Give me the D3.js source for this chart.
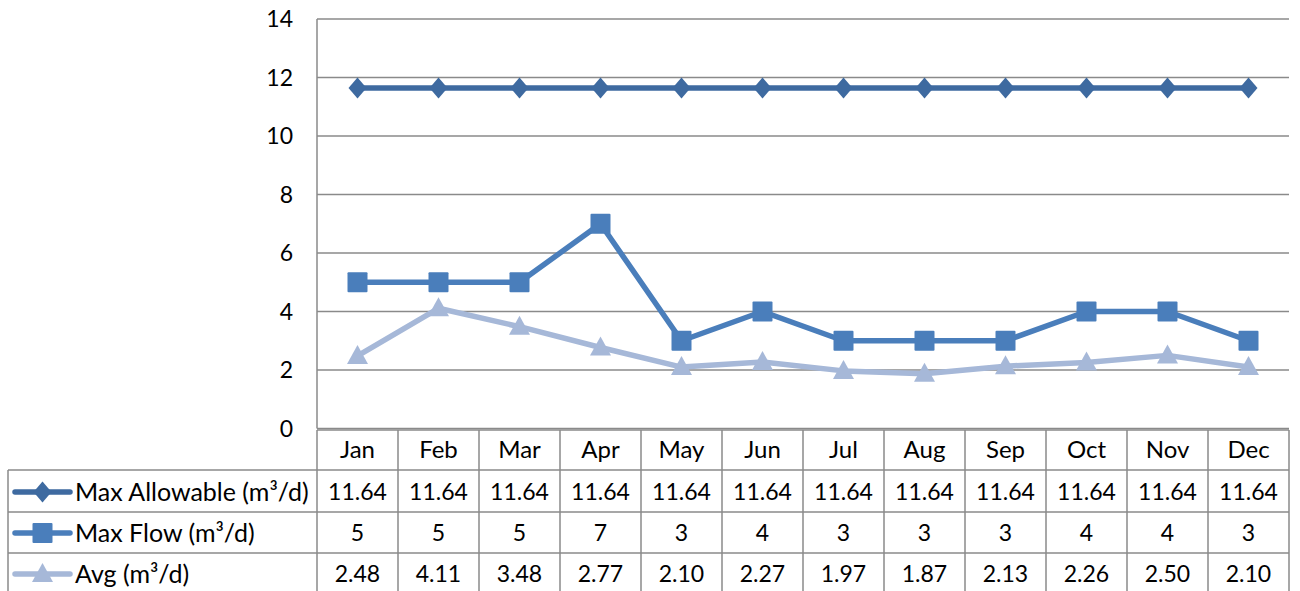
<!DOCTYPE html>
<html>
<head>
<meta charset="utf-8">
<script src="https://cdn.jsdelivr.net/npm/d3@7"></script>
<style>
  body { margin: 0; background: #fff; }
  svg { display: block; font-family: Lato, "Open Sans", sans-serif; }
</style>
</head>
<body>
<div id="chart"></div>
<script>
// Data
const months = ['Jan', 'Feb', 'Mar', 'Apr', 'May', 'Jun', 'Jul', 'Aug', 'Sep', 'Oct', 'Nov', 'Dec'];
const maxAllowable = [11.64, 11.64, 11.64, 11.64, 11.64, 11.64, 11.64, 11.64, 11.64, 11.64, 11.64, 11.64];
const maxFlow = [5, 5, 5, 7, 3, 4, 3, 3, 3, 4, 4, 3];
const avgFlow = [2.48, 4.11, 3.48, 2.77, 2.10, 2.27, 1.97, 1.87, 2.13, 2.26, 2.50, 2.10];
const yTicks = [0, 2, 4, 6, 8, 10, 12, 14];

const seriesNames = ['Max Allowable (m\u00b3/d)', 'Max Flow (m\u00b3/d)', 'Avg (m\u00b3/d)'];
const seriesLabels = [
    maxAllowable.map(v => v.toFixed(2)),
    maxFlow.map(v => String(v)),
    avgFlow.map(v => v.toFixed(2))
];

const width = 1300, height = 591;
const plotLeft = 317, plotRight = 1289, plotTop = 19, plotBottom = 428.5;
const tableLeft = 8;
const rowEdges = [430, 470, 512, 553, 596];
const rowText = [450, 492, 533, 574];
const gridColor = '#8a8a8a';
const numSize = 23, wordSize = 24, legendSize = 25;

const series = [
    { values: maxAllowable, color: '#3e6aa0', marker: 'diamond', width: 5.5 },
    { values: maxFlow, color: '#4a7ebb', marker: 'square', width: 5.5 },
    { values: avgFlow, color: '#a6b8d8', marker: 'triangle', width: 5.5 }
];

const svg = d3.select('#chart').append('svg')
    .attr('width', width)
    .attr('height', height);

const x = d3.scaleBand().domain(months).range([plotLeft, plotRight]);
const y = d3.scaleLinear().domain([0, 14]).range([plotBottom, plotTop]);

// Gridlines
svg.append('g').selectAll('line')
    .data(yTicks)
    .enter().append('line')
    .attr('x1', plotLeft).attr('x2', plotRight)
    .attr('y1', d => y(d)).attr('y2', d => y(d))
    .attr('stroke', gridColor)
    .attr('stroke-width', 1.5);

// Left axis line
svg.append('line')
    .attr('x1', plotLeft).attr('x2', plotLeft)
    .attr('y1', plotTop).attr('y2', plotBottom)
    .attr('stroke', gridColor).attr('stroke-width', 1.5);

// Y tick labels
svg.append('g').selectAll('text')
    .data(yTicks)
    .enter().append('text')
    .attr('x', 293)
    .attr('y', d => y(d))
    .attr('dy', '0.35em')
    .attr('text-anchor', 'end')
    .attr('font-size', numSize)
    .attr('fill', '#000')
    .text(d => d);

// Marker shapes (centred on 0,0)
const markerPath = {
    diamond: 'M0,-10.5L9,0L0,10.5L-9,0Z',
    square: 'M-9,-10H9Q10,-10 10,-9V9Q10,10 9,10H-9Q-10,10 -10,9V-9Q-10,-10 -9,-10Z',
    triangle: 'M0,-11L10.5,8H-10.5Z'
};

function drawMarker(g, type, color) {
    return g.append('path')
        .attr('d', markerPath[type])
        .attr('fill', color);
}

const line = d3.line()
    .x((d, i) => x(months[i]) + x.bandwidth() / 2)
    .y(d => y(d));

// Series lines, drawn bottom-up so Max Allowable ends on top
series.slice().reverse().forEach(s => {
    svg.append('path')
        .datum(s.values)
        .attr('d', line)
        .attr('fill', 'none')
        .attr('stroke', s.color)
        .attr('stroke-width', s.width)
        .attr('stroke-linejoin', 'round');

    s.values.forEach((v, i) => {
        const g = svg.append('g')
            .attr('transform', `translate(${x(months[i]) + x.bandwidth() / 2}, ${y(v)})`);
        drawMarker(g, s.marker, s.color);
    });
});

// Data table
const table = svg.append('g');
const cellLine = (x1, y1, x2, y2) => table.append('line')
    .attr('x1', x1).attr('y1', y1).attr('x2', x2).attr('y2', y2)
    .attr('stroke', gridColor).attr('stroke-width', 1.5);

// horizontal borders
cellLine(plotLeft, rowEdges[0], plotRight, rowEdges[0]);
for (let r = 1; r < rowEdges.length; r++) {
    cellLine(tableLeft, rowEdges[r], plotRight, rowEdges[r]);
}
// vertical borders
cellLine(tableLeft, rowEdges[1], tableLeft, height);
months.forEach(m => cellLine(x(m), rowEdges[0], x(m), height));
cellLine(plotRight, rowEdges[0], plotRight, height);

// header row
table.selectAll('.month')
    .data(months)
    .enter().append('text')
    .attr('class', 'month')
    .attr('x', d => x(d) + x.bandwidth() / 2)
    .attr('y', rowText[0])
    .attr('dy', '0.35em')
    .attr('text-anchor', 'middle')
    .attr('font-size', wordSize)
    .text(d => d);

// series rows
series.forEach((s, r) => {
    const cy = rowText[r + 1];

    // legend key
    table.append('line')
        .attr('x1', 15).attr('x2', 70)
        .attr('y1', cy).attr('y2', cy)
        .attr('stroke', s.color)
        .attr('stroke-width', s.width)
        .attr('stroke-linecap', 'round');
    const key = table.append('g').attr('transform', `translate(42.5, ${cy})`);
    drawMarker(key, s.marker, s.color);

    table.append('text')
        .attr('x', 75)
        .attr('y', cy)
        .attr('dy', '0.35em')
        .attr('font-size', legendSize)
        .text(seriesNames[r]);

    table.selectAll('.val' + r)
        .data(seriesLabels[r])
        .enter().append('text')
        .attr('x', (d, i) => x(months[i]) + x.bandwidth() / 2)
        .attr('y', cy)
        .attr('dy', '0.35em')
        .attr('text-anchor', 'middle')
        .attr('font-size', numSize)
        .text(d => d);
});
</script>
</body>
</html>
